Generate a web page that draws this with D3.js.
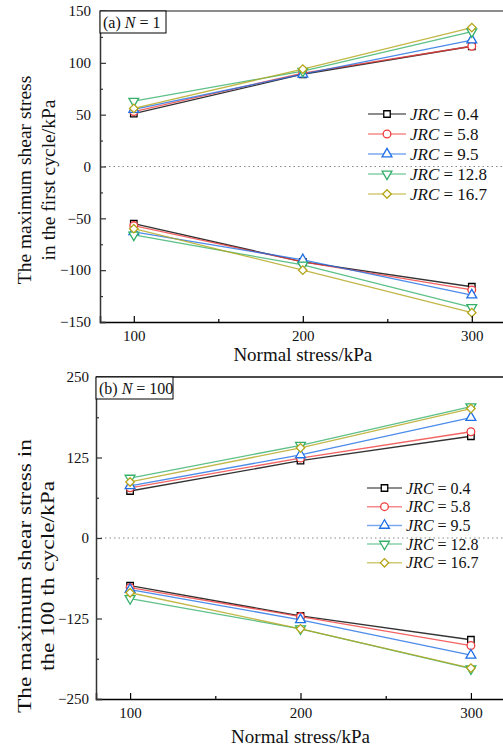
<!DOCTYPE html>
<html>
<head>
<meta charset="utf-8">
<script src="https://cdn.jsdelivr.net/npm/d3@7"></script>
<style>
  body { margin: 0; background: #fff; }
  svg { display: block; font-family: "Liberation Serif", "Times New Roman", serif; }
</style>
</head>
<body>
<svg id="chart" width="503" height="747"></svg>
<script>
// ---------- data ----------
const normalStress = [100, 200, 300];
const xTickValues = [100, 200, 300];
const xMinorTicks = [150, 250];
const jrcLabels = ["0.4", "5.8", "9.5", "12.8", "16.7"];
const seriesColors = ["#000000", "#f03c3c", "#1f6fe5", "#35b06a", "#b3a51a"];

// Panel (a): N = 1
const aPositive = [
  [51, 89, 116],
  [53, 90, 116],
  [55, 89, 122],
  [63, 92, 130],
  [56, 94, 134]
];
const aNegative = [
  [-55, -92, -116],
  [-57, -92, -119],
  [-63, -90, -124],
  [-66, -95, -136],
  [-60, -100, -141]
];
const aYTicks = [-150, -100, -50, 0, 50, 100, 150];
const aYMinor = [-125, -75, -25, 25, 75, 125];

// Panel (b): N = 100
const bPositive = [
  [73, 120, 158],
  [78, 124, 165],
  [81, 129, 187],
  [93, 144, 204],
  [87, 140, 201]
];
const bNegative = [
  [-74, -121, -158],
  [-77, -122, -167],
  [-80, -127, -182],
  [-94, -141, -203],
  [-85, -141, -202]
];
const bYTicks = [-250, -125, 0, 125, 250];
const bYMinor = [-187.5, -62.5, 62.5, 187.5];

// ---------- drawing ----------
const svg = d3.select("#chart");
const fmt = v => (v < 0 ? "\u2212" + Math.abs(v) : String(v));

const symbolFor = i => {
  const types = [d3.symbolSquare, d3.symbolCircle, d3.symbolTriangle, d3.symbolTriangle, d3.symbolSquare];
  const sizes = [42, 46, 42, 42, 36];
  return d3.symbol().type(types[i]).size(sizes[i])();
};
const rotFor = i => (i === 3 ? 180 : i === 4 ? 45 : 0);

function marker(g, i, x, y) {
  g.append("path")
    .attr("d", symbolFor(i))
    .attr("transform", `translate(${x},${y}) rotate(${rotFor(i)})`)
    .attr("fill", "#fff")
    .attr("stroke", seriesColors[i])
    .attr("stroke-width", 1.3);
}

function panel(cfg) {
  const g = svg.append("g");
  const x = d3.scaleLinear().domain([80, 320]).range([cfg.left, cfg.right]);
  const y = d3.scaleLinear().domain(cfg.yDomain).range([cfg.bottom, cfg.top]);

  // frame top line
  g.append("line").attr("x1", cfg.left).attr("x2", cfg.right)
    .attr("y1", cfg.top).attr("y2", cfg.top)
    .attr("stroke", cfg.topColor).attr("stroke-width", 1.6);

  // zero dotted line
  g.append("line").attr("x1", cfg.left).attr("x2", cfg.right)
    .attr("y1", y(0)).attr("y2", y(0))
    .attr("stroke", "#888").attr("stroke-width", 1).attr("stroke-dasharray", "1.5,3");

  // series
  const line = d3.line().x((d, k) => x(normalStress[k])).y(d => y(d));
  [cfg.pos, cfg.neg].forEach(set => {
    set.forEach((vals, i) => {
      g.append("path").datum(vals).attr("d", line)
        .attr("fill", "none").attr("stroke", seriesColors[i])
        .attr("stroke-opacity", 0.8).attr("stroke-width", 1.3);
    });
  });
  [cfg.pos, cfg.neg].forEach(set => {
    set.forEach((vals, i) => {
      vals.forEach((v, k) => marker(g, i, x(normalStress[k]), y(v)));
    });
  });

  // axes
  const xAxis = d3.axisBottom(x).tickValues(xTickValues).tickSize(-6).tickPadding(8).tickFormat(d3.format("d"));
  const xg = g.append("g").attr("transform", `translate(0,${cfg.bottom})`).call(xAxis);
  xg.select(".domain").attr("stroke", "#000").attr("stroke-width", 1.5);
  xg.selectAll(".tick line").attr("stroke", "#000").attr("stroke-width", 1.2);
  xg.selectAll("text").attr("font-size", 15).attr("font-family", "Liberation Serif").attr("fill", "#111");
  const xm = d3.axisBottom(x).tickValues(xMinorTicks).tickSize(-3).tickFormat("");
  const xmg = g.append("g").attr("transform", `translate(0,${cfg.bottom})`).call(xm);
  xmg.select(".domain").remove();
  xmg.selectAll(".tick line").attr("stroke", "#000").attr("stroke-width", 1.2);

  const yAxis = d3.axisLeft(y).tickValues(cfg.yTicks).tickSize(-6).tickPadding(cfg.yPad).tickFormat(fmt);
  const yg = g.append("g").attr("transform", `translate(${cfg.left},0)`).call(yAxis);
  yg.select(".domain").attr("stroke", "#333").attr("stroke-width", 1.5);
  yg.selectAll(".tick line").attr("stroke", "#333").attr("stroke-width", 1.2);
  yg.selectAll("text").attr("font-size", 15).attr("font-family", "Liberation Serif").attr("fill", "#111");
  const ym = d3.axisLeft(y).tickValues(cfg.yMinor).tickSize(-3).tickFormat("");
  const ymg = g.append("g").attr("transform", `translate(${cfg.left},0)`).call(ym);
  ymg.select(".domain").remove();
  ymg.selectAll(".tick line").attr("stroke", "#333").attr("stroke-width", 1.2);

  // x title
  g.append("text").attr("x", x(200)).attr("y", cfg.xTitleY)
    .attr("text-anchor", "middle").attr("font-size", 19).attr("fill", "#111")
    .text("Normal stress/kPa");

  // y title (two lines)
  cfg.yTitle.forEach((t, k) => {
    g.append("text")
      .attr("transform", `translate(${cfg.yTitleX[k]},${cfg.yTitleCy}) rotate(-90) scale(${cfg.yTitleStretch},1)`)
      .attr("text-anchor", "middle").attr("font-size", 19.5).attr("fill", "#111")
      .text(t);
  });

  // panel label box
  const lab = g.append("g");
  lab.append("rect").attr("x", cfg.left).attr("y", cfg.top)
    .attr("width", cfg.labelW).attr("height", 22)
    .attr("fill", "#fff").attr("stroke", "#000").attr("stroke-width", 1);
  const lt = lab.append("text").attr("x", cfg.left + 3).attr("y", cfg.top + 17)
    .attr("font-size", 16).attr("fill", "#111");
  lt.append("tspan").text(cfg.labelPre + " ");
  lt.append("tspan").attr("font-style", "italic").text("N");
  lt.append("tspan").text(" = " + cfg.labelN);

  // legend
  const lg = g.append("g");
  jrcLabels.forEach((lbl, i) => {
    const ly = cfg.legY + i * cfg.legStep;
    lg.append("line").attr("x1", cfg.legX).attr("x2", cfg.legX + cfg.legLen)
      .attr("y1", ly).attr("y2", ly)
      .attr("stroke", seriesColors[i]).attr("stroke-opacity", 0.6).attr("stroke-width", 1.5);
    marker(lg, i, cfg.legX + cfg.legLen / 2, ly);
    const tx = lg.append("text").attr("x", cfg.legX + cfg.legLen + 4).attr("y", ly + 5.5)
      .attr("font-size", cfg.legFont).attr("fill", "#111");
    tx.append("tspan").attr("font-style", "italic").text("JRC");
    tx.append("tspan").text(" = " + lbl);
  });
}

panel({
  left: 100, right: 505.6, top: 11, bottom: 322,
  yDomain: [-150, 150], yTicks: aYTicks, yMinor: aYMinor, yPad: 9,
  pos: aPositive, neg: aNegative, topColor: "#666",
  xTitleY: 361,
  yTitle: ["The maximum shear stress", "in the first cycle/kPa"],
  yTitleX: [31, 55], yTitleCy: 180, yTitleStretch: 1.0,
  labelW: 66, labelPre: "(a)", labelN: "1",
  legX: 368, legLen: 38, legY: 114, legStep: 20, legFont: 17
});

panel({
  left: 96, right: 505, top: 377, bottom: 699,
  yDomain: [-250, 250], yTicks: bYTicks, yMinor: bYMinor, yPad: 7,
  pos: bPositive, neg: bNegative, topColor: "#111",
  xTitleY: 743,
  yTitle: ["The maximum shear stress in", "the 100 th cycle/kPa"],
  yTitleX: [31, 54], yTitleCy: 576, yTitleStretch: 1.2,
  labelW: 77, labelPre: "(b)", labelN: "100",
  legX: 367, legLen: 35, legY: 488, legStep: 18.7, legFont: 16
});
</script>
</body>
</html>
